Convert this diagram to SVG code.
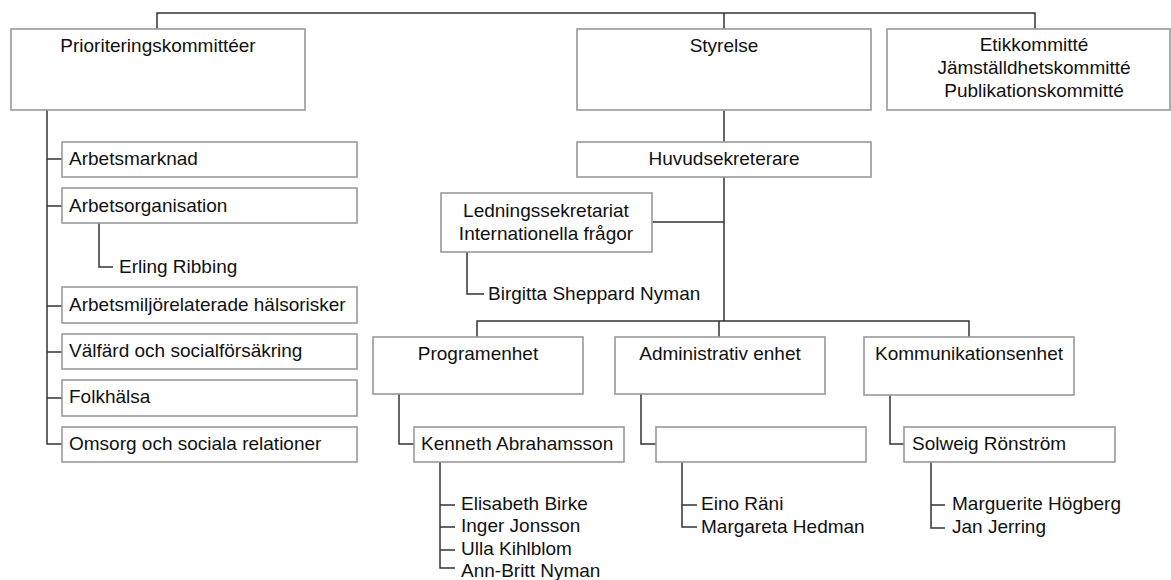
<svg xmlns="http://www.w3.org/2000/svg" width="1171" height="580" viewBox="0 0 1171 580">
<style>
.box{fill:#fff;stroke:#999;stroke-width:1.6}
.ln{fill:none;stroke:#333;stroke-width:1.5}
text{font-family:"Liberation Sans",Arial,sans-serif;font-size:19px;fill:#111}
.c{text-anchor:middle}
</style>
<rect width="1171" height="580" fill="#fff"/>
<g id="connectors" class="ln">
<path d="M157,29V13H1035V29"/>
<path d="M724,13V29"/>
<path d="M724,110V142"/>
<path d="M724,177V321"/>
<path d="M652,222H724"/>
<path d="M467,252V294H484"/>
<path d="M477,337V321H969V337"/>
<path d="M719,321V337"/>
<path d="M47,110V444H62"/>
<path d="M47,159H62M47,206H62M47,306H62M47,352H62M47,398H62"/>
<path d="M99,223V267H113"/>
<path d="M399,394V444H414"/>
<path d="M440,462V568H455M440,505H455M440,527H455M440,550H455"/>
<path d="M641,394V444H656"/>
<path d="M682,462V527H697M682,505H697"/>
<path d="M890,395V444H904"/>
<path d="M931,462V528H945M931,505H945"/>
</g>
<g id="prio"><rect class="box" x="11" y="29" width="294" height="81"/><text class="c" x="158" y="52">Prioriteringskommittéer</text></g>
<g id="styrelse"><rect class="box" x="577" y="29" width="294" height="81"/><text class="c" x="724" y="52">Styrelse</text></g>
<g id="kommitteer"><rect class="box" x="887" y="29" width="283" height="81"/><text class="c" x="1034" y="51">Etikkommitté</text><text class="c" x="1034" y="74">Jämställdhetskommitté</text><text class="c" x="1034" y="97">Publikationskommitté</text></g>
<g id="huvud"><rect class="box" x="577" y="142" width="294" height="35"/><text class="c" x="724" y="165">Huvudsekreterare</text></g>
<g id="ledning"><rect class="box" x="441" y="193" width="211" height="59"/><text class="c" x="546" y="217">Ledningssekretariat</text><text class="c" x="546" y="240">Internationella frågor</text></g>
<g id="birgitta"><text x="488" y="300">Birgitta Sheppard Nyman</text></g>
<g id="arbetsmarknad"><rect class="box" x="62" y="142" width="295" height="35"/><text x="69" y="165">Arbetsmarknad</text></g>
<g id="arbetsorg"><rect class="box" x="62" y="188" width="295" height="35"/><text x="69" y="212">Arbetsorganisation</text></g>
<g id="erling"><text x="119" y="273">Erling Ribbing</text></g>
<g id="arbetsmiljo"><rect class="box" x="62" y="287" width="295" height="36"/><text x="69" y="311">Arbetsmiljörelaterade hälsorisker</text></g>
<g id="valfard"><rect class="box" x="62" y="334" width="295" height="35"/><text x="69" y="357">Välfärd och socialförsäkring</text></g>
<g id="folkhalsa"><rect class="box" x="62" y="380" width="295" height="36"/><text x="69" y="403">Folkhälsa</text></g>
<g id="omsorg"><rect class="box" x="62" y="427" width="295" height="35"/><text x="69" y="450">Omsorg och sociala relationer</text></g>
<g id="program"><rect class="box" x="373" y="337" width="210" height="57"/><text class="c" x="478" y="360">Programenhet</text></g>
<g id="admin"><rect class="box" x="615" y="337" width="210" height="57"/><text class="c" x="720" y="360">Administrativ enhet</text></g>
<g id="kommunikation"><rect class="box" x="864" y="337" width="210" height="58"/><text class="c" x="969" y="360">Kommunikationsenhet</text></g>
<g id="kenneth"><rect class="box" x="414" y="427" width="210" height="35"/><text x="421" y="450">Kenneth Abrahamsson</text></g>
<g id="adminperson"><rect class="box" x="656" y="427" width="210" height="35"/></g>
<g id="solweig"><rect class="box" x="904" y="427" width="211" height="35"/><text x="912" y="450">Solweig Rönström</text></g>
<g id="programstaff"><text x="461" y="510">Elisabeth Birke</text><text x="461" y="532">Inger Jonsson</text><text x="461" y="555">Ulla Kihlblom</text><text x="461" y="577">Ann-Britt Nyman</text></g>
<g id="adminstaff"><text x="701" y="510">Eino Räni</text><text x="701" y="533">Margareta Hedman</text></g>
<g id="kommstaff"><text x="952" y="510">Marguerite Högberg</text><text x="952" y="533">Jan Jerring</text></g>
</svg>
